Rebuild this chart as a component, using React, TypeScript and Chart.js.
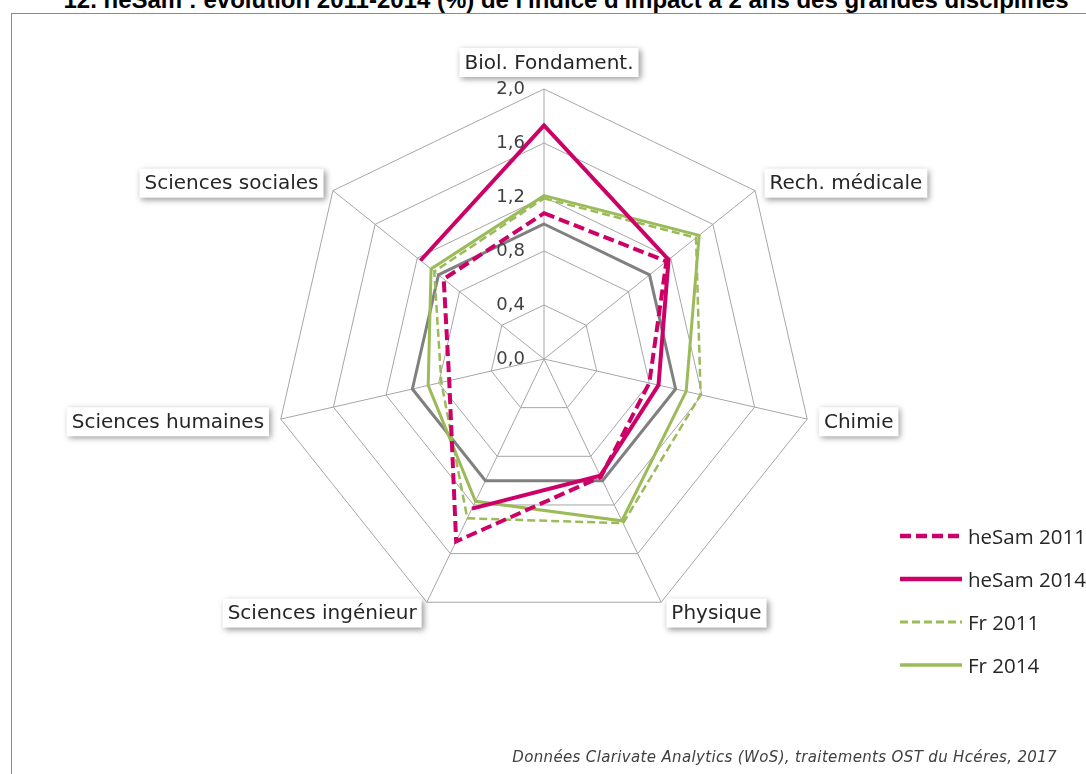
import React, { useEffect, useRef } from 'react';
import { Chart, registerables } from 'chart.js';

Chart.register(...registerables);

const categories = [
  'Biol. Fondament.',
  'Rech. médicale',
  'Chimie',
  'Physique',
  'Sciences ingénieur',
  'Sciences humaines',
  'Sciences sociales',
];
const heSam2011 = [1.08, 1.16, 0.8, 0.97, 1.5, 0.72, 0.95];
const heSam2014 = [1.73, 1.18, 0.87, 0.96, 1.23, null, 1.17];
const fr2011 = [1.19, 1.44, 1.19, 1.35, 1.31, 0.78, 1.04];
const fr2014 = [1.21, 1.47, 1.08, 1.33, 1.17, 0.88, 1.07];
const reference = [1, 1, 1, 1, 1, 1, 1];
const tickValues = [0, 0.4, 0.8, 1.2, 1.6, 2.0];
const seriesNames = ['heSam 2011', 'heSam 2014', 'Fr 2011', 'Fr 2014'];

const MAGENTA = '#CC0066';
const GREEN = '#9BBB59';
const GREY = '#808080';
const GRID = '#A6A6A6';

const fmt = (v: number) => v.toFixed(1).replace('.', ',');

const overlayPlugin = {
  id: 'overlay',
  afterDraw(chart: any) {
    const ctx: CanvasRenderingContext2D = chart.ctx;
    const scale = chart.scales.r;
    const R = scale.drawingArea;
    const n = categories.length;

    // tick labels
    ctx.save();
    ctx.font = '18px "DejaVu Sans"';
    ctx.fillStyle = '#404040';
    ctx.textAlign = 'right';
    ctx.textBaseline = 'middle';
    tickValues.forEach((v) => {
      const d = scale.getDistanceFromCenterForValue(v);
      ctx.fillText(fmt(v), scale.xCenter - 19, scale.yCenter - d);
    });
    ctx.restore();

    // category labels with shadowed boxes
    ctx.save();
    ctx.font = '20px "DejaVu Sans"';
    const padX = 5;
    const boxH = 29;
    categories.forEach((label, i) => {
      const p = scale.getPointPosition(i, R + 12);
      const w = ctx.measureText(label).width + padX * 2;
      const angle = (i * 360) / n;
      let left: number;
      let cy: number;
      if (i === 0) {
        left = p.x - w / 2 + 5;
        cy = p.y - boxH / 2;
      } else if (angle < 180) {
        left = p.x;
        cy = p.y;
      } else {
        left = p.x - w;
        cy = p.y;
      }
      ctx.save();
      ctx.shadowColor = 'rgba(0,0,0,0.4)';
      ctx.shadowBlur = 6;
      ctx.shadowOffsetX = 2;
      ctx.shadowOffsetY = 2;
      ctx.fillStyle = '#ffffff';
      ctx.fillRect(left, cy - boxH / 2, w, boxH);
      ctx.restore();
      ctx.fillStyle = '#262626';
      ctx.textAlign = 'left';
      ctx.textBaseline = 'middle';
      ctx.fillText(label, left + padX, cy + 1);
    });
    ctx.restore();

    // legend
    ctx.save();
    const rowY = [536, 579, 622, 665];
    seriesNames.forEach((name, k) => {
      const ds = chart.data.datasets.find((d: any) => d.label === name);
      if (!ds) return;
      const y = rowY[k];
      ctx.save();
      ctx.strokeStyle = ds.borderColor;
      ctx.lineWidth = ds.borderWidth + 0.5;
      ctx.setLineDash(ds.borderDash || []);
      ctx.beginPath();
      ctx.moveTo(900, y);
      ctx.lineTo(962, y);
      ctx.stroke();
      ctx.restore();
      ctx.fillStyle = '#262626';
      ctx.font = '20.5px "Open Sans"';
      ctx.textAlign = 'left';
      ctx.textBaseline = 'alphabetic';
      ctx.fillText(name, 968, y + 8);
    });
    ctx.restore();
  },
};

export default function App() {
  const ref = useRef<HTMLCanvasElement>(null);

  useEffect(() => {
    const chart = new Chart(ref.current as HTMLCanvasElement, {
      type: 'radar',
      data: {
        labels: categories,
        datasets: [
          {
            label: 'heSam 2014',
            data: heSam2014,
            borderColor: MAGENTA,
            borderWidth: 4,
            order: 1,
          },
          {
            label: 'heSam 2011',
            data: heSam2011,
            borderColor: MAGENTA,
            borderWidth: 4,
            borderDash: [11, 5],
            order: 2,
          },
          {
            label: 'Fr 2014',
            data: fr2014,
            borderColor: GREEN,
            borderWidth: 3,
            order: 3,
          },
          {
            label: 'Fr 2011',
            data: fr2011,
            borderColor: GREEN,
            borderWidth: 2.5,
            borderDash: [8, 4],
            order: 4,
          },
          {
            label: 'Référence',
            data: reference,
            borderColor: GREY,
            borderWidth: 3,
            order: 5,
          },
        ] as any,
      },
      options: {
        responsive: false,
        animation: false,
        layout: { padding: { left: 274, right: 272, top: 89, bottom: 145 } },
        plugins: {
          legend: { display: false },
          tooltip: { enabled: false },
        },
        elements: {
          point: { radius: 0, hoverRadius: 0 },
          line: { tension: 0, fill: false, borderJoinStyle: 'miter' },
        },
        scales: {
          r: {
            min: 0,
            max: 2,
            ticks: { display: false, stepSize: 0.4 },
            grid: { color: GRID, lineWidth: 1 },
            angleLines: { color: GRID, lineWidth: 1 },
            pointLabels: { display: false },
          },
        },
      } as any,
      plugins: [overlayPlugin],
    });
    return () => chart.destroy();
  }, []);

  return (
    <div
      style={{
        position: 'fixed',
        left: 0,
        top: 0,
        width: 1086,
        height: 774,
        overflow: 'hidden',
        background: '#ffffff',
      }}
    >
      <div
        style={{
          position: 'absolute',
          left: 0,
          top: -12,
          width: 1132,
          textAlign: 'center',
          whiteSpace: 'nowrap',
          font: 'bold 24px "Liberation Sans"',
          lineHeight: 1,
          color: '#000',
        }}
      >
        12. heSam : évolution 2011-2014 (%) de l'indice d'impact à 2 ans des grandes disciplines
      </div>
      <div
        style={{
          position: 'absolute',
          left: 11,
          top: 13,
          width: 1120,
          height: 800,
          border: '1px solid #8a8a8a',
          boxSizing: 'border-box',
        }}
      />
      <canvas
        ref={ref}
        width={1086}
        height={774}
        style={{ position: 'absolute', left: 0, top: 0 }}
      />
      <div
        style={{
          position: 'absolute',
          right: 29,
          top: 750,
          whiteSpace: 'nowrap',
          font: 'italic 15px "DejaVu Sans"',
          letterSpacing: '0.35px',
          lineHeight: 1,
          color: '#404040',
        }}
      >
        Données Clarivate Analytics (WoS), traitements OST du Hcéres, 2017
      </div>
    </div>
  );
}
